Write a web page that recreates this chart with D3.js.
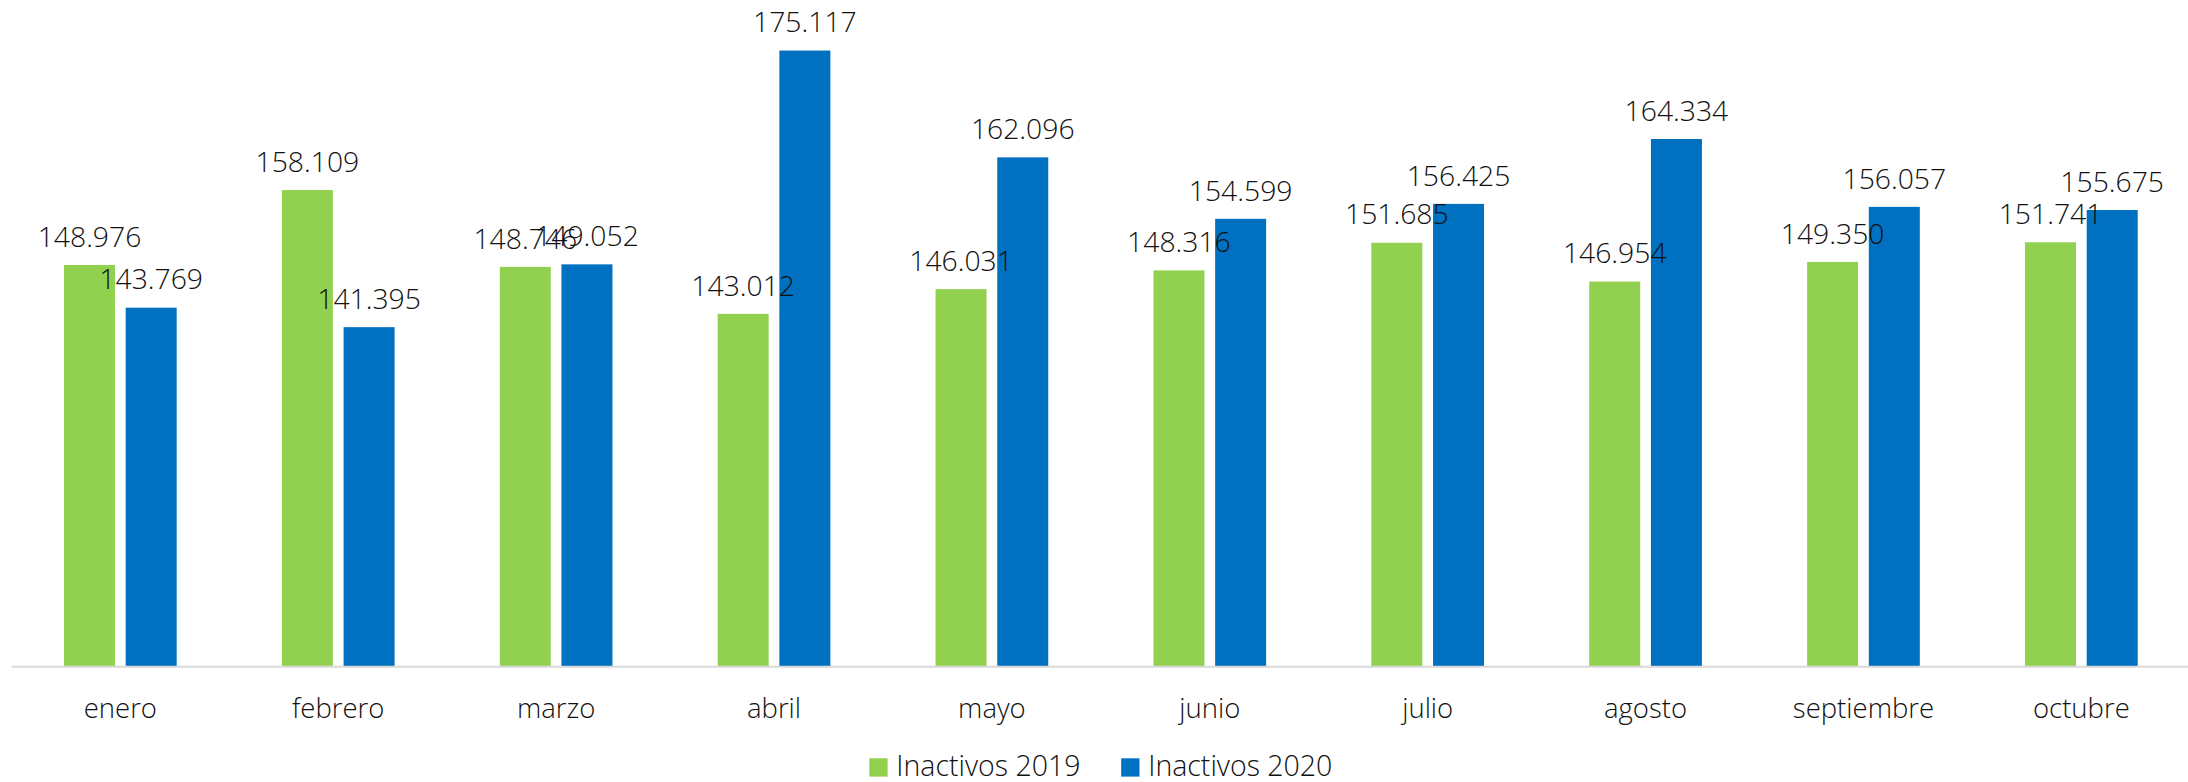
<!DOCTYPE html>
<html>
<head>
<meta charset="utf-8">
<script src="https://cdn.jsdelivr.net/npm/d3@7/dist/d3.min.js"></script>
<style>
  html, body { margin: 0; padding: 0; background: #fff; }
  svg { display: block; font-family: "Open Sans", "Noto Sans", sans-serif; }
</style>
</head>
<body>
<svg id="chart" width="2188" height="782"></svg>
<script>
const months = ["enero", "febrero", "marzo", "abril", "mayo", "junio", "julio", "agosto", "septiembre", "octubre"];
const seriesNames = ["Inactivos 2019", "Inactivos 2020"];
const inactivos2019 = [148976, 158109, 148746, 143012, 146031, 148316, 151685, 146954, 149350, 151741];
const inactivos2020 = [143769, 141395, 149052, 175117, 162096, 154599, 156425, 164334, 156057, 155675];
const seriesColors = ["#92D050", "#0070C0"];
const yDomain = [100000, 180000];

const seriesValues = [inactivos2019, inactivos2020];
const data = months.map((m, i) => ({
  month: m,
  values: seriesNames.map((s, j) => ({ series: s, idx: j, value: seriesValues[j][i] }))
}));

const svg = d3.select("#chart");
const plot = { left: 11.4, right: 2190.3, top: 10.5, bottom: 666.7 };

const x0 = d3.scaleBand().domain(months).range([plot.left, plot.right])
  .paddingInner(0.4828).paddingOuter(0.2414);
const x1 = d3.scaleBand().domain(seriesNames).range([0, x0.bandwidth()])
  .paddingInner(0.1734).paddingOuter(0);
const y = d3.scaleLinear().domain(yDomain).range([plot.bottom, plot.top]);
const color = d3.scaleOrdinal().domain(seriesNames).range(seriesColors);

const fmt = v => d3.format(",")(v).replace(/,/g, ".");

// bars
const groups = svg.append("g").selectAll("g").data(data).join("g")
  .attr("transform", d => `translate(${x0(d.month)},0)`);

groups.selectAll("rect").data(d => d.values).join("rect")
  .attr("x", d => x1(d.series))
  .attr("y", d => y(d.value))
  .attr("width", x1.bandwidth())
  .attr("height", d => y(yDomain[0]) - y(d.value))
  .attr("fill", d => color(d.series));

// data labels
groups.selectAll("text.lbl").data(d => d.values).join("text")
  .attr("class", "lbl")
  .attr("x", d => x1(d.series) + x1.bandwidth() / 2)
  .attr("y", d => y(d.value) - 18.3)
  .attr("text-anchor", "middle")
  .attr("font-size", 28.3)
  .attr("font-weight", 300)
  .attr("fill", "#111")
  .text(d => fmt(d.value));

// x axis
const xAxis = svg.append("g")
  .attr("transform", `translate(0,${plot.bottom})`)
  .call(d3.axisBottom(x0).tickSize(0).tickSizeOuter(0));
xAxis.select(".domain").attr("stroke", "#D9D9D9").attr("stroke-width", 2)
  .attr("d", `M${plot.left},0H2188`);
xAxis.selectAll(".tick text")
  .attr("y", 51.6).attr("dy", null)
  .attr("font-size", 27.5)
  .attr("font-weight", 300)
  .attr("font-family", "'Open Sans', 'Noto Sans', sans-serif")
  .attr("fill", "#111");

// legend
const legend = svg.append("g");
const items = legend.selectAll("g").data(seriesNames).join("g");
items.append("rect").attr("width", 18.3).attr("height", 18.3)
  .attr("y", 758.3).attr("fill", d => color(d));
items.append("text").attr("x", 27).attr("y", 776)
  .attr("font-size", 28.5).attr("font-weight", 300).attr("fill", "#111")
  .text(d => d);
const widths = [];
items.each(function() { widths.push(this.getBBox().width); });
const gap = 40.7;
const total = d3.sum(widths) + gap * (widths.length - 1);
let cx = (plot.left + plot.right) / 2 - total / 2;
items.attr("transform", (d, i) => {
  const t = `translate(${cx},0)`;
  cx += widths[i] + gap;
  return t;
});
</script>
</body>
</html>
